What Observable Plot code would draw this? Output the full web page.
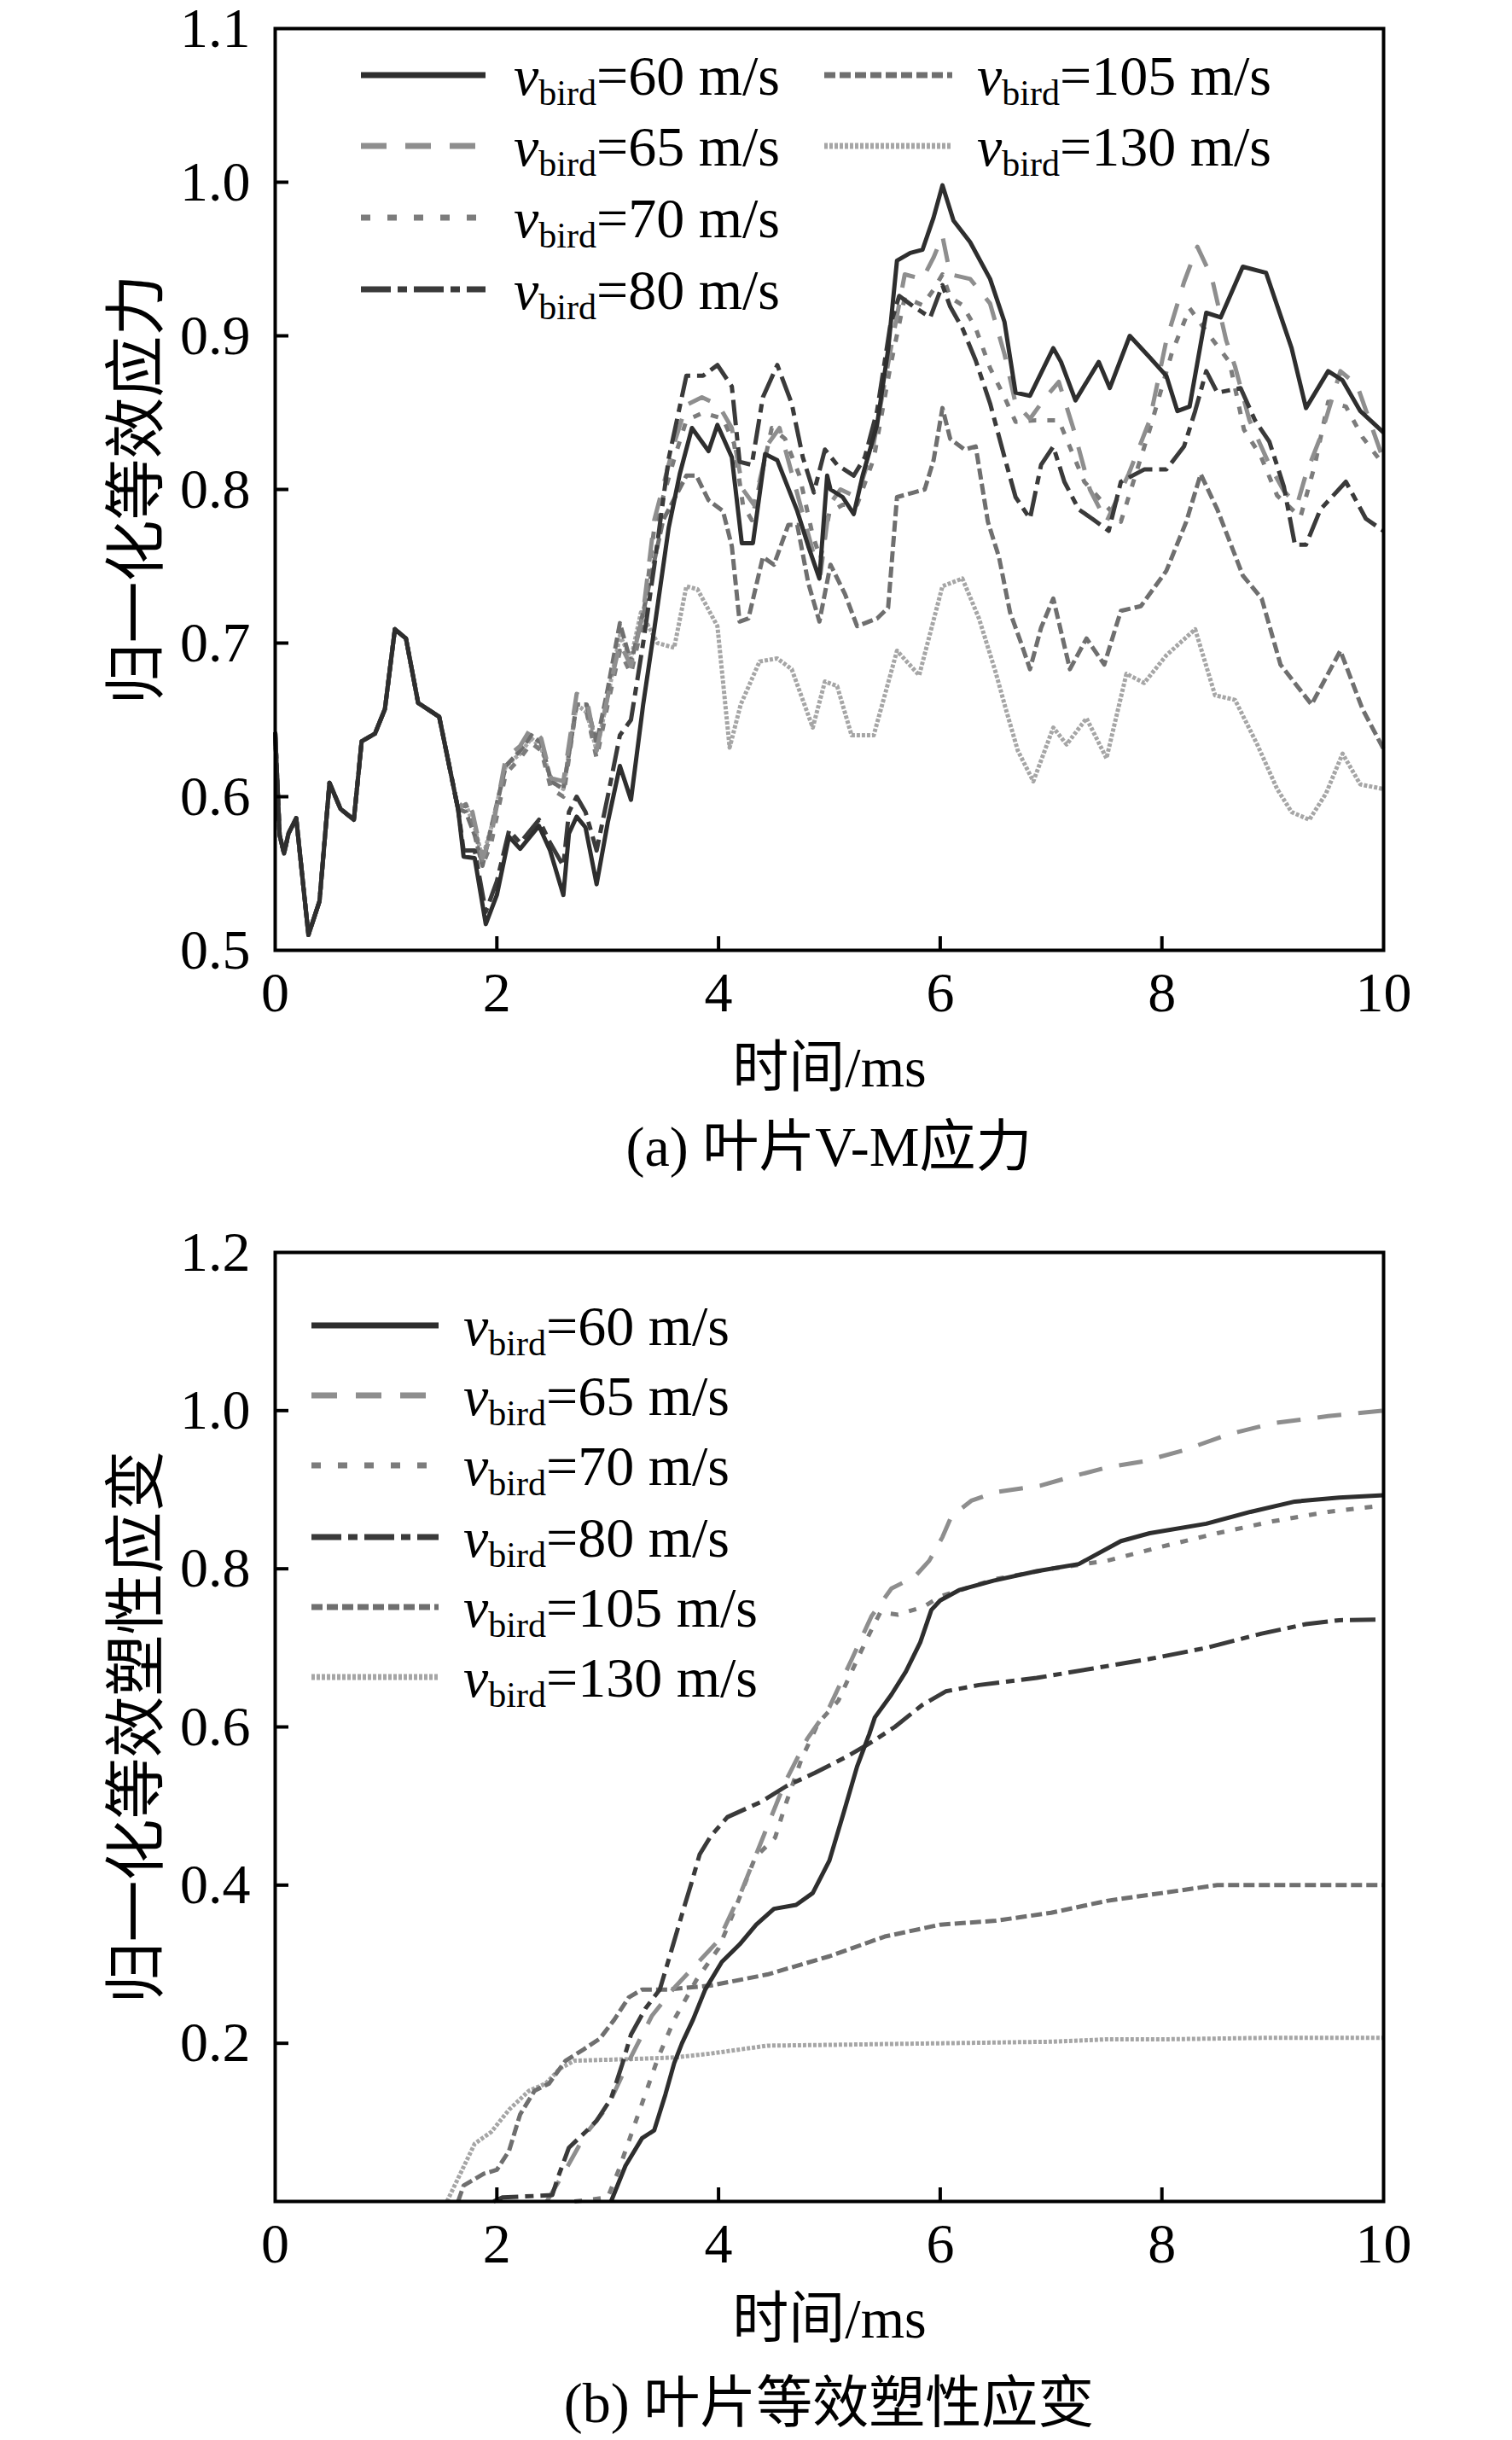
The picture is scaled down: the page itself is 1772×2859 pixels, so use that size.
<!DOCTYPE html>
<html>
<head>
<meta charset="utf-8">
<script src="https://cdn.jsdelivr.net/npm/d3@7"></script>
<script src="https://cdn.jsdelivr.net/npm/@observablehq/plot@0.6"></script>
<style>
  html, body { margin: 0; padding: 0; background: white; }
  svg { display: block; }
  .cap { width: 1299px; margin-left: 322px; text-align: center; font-family: 'Liberation Serif','Noto Sans CJK SC',serif; font-size: 66px; color: black; white-space: nowrap; }
</style>
</head>
<body>
<div id="chart"></div>
<script>
// ---------- data ----------
const speeds = ["60", "65", "70", "80", "105", "130"];
const xTicks = [0, 2, 4, 6, 8, 10];
const yTicksA = [0.5, 0.6, 0.7, 0.8, 0.9, 1.0, 1.1];
const yTicksB = [0.2, 0.4, 0.6, 0.8, 1.0, 1.2];

// (a) normalized V-M stress: shared start 0–1.65 ms
const aCommon = [[0,0.642],[0.04,0.575],[0.08,0.563],[0.12,0.576],[0.19,0.586],[0.30,0.51],[0.40,0.532],[0.49,0.609],[0.59,0.592],[0.71,0.585],[0.78,0.636],[0.90,0.641],[0.99,0.657],[1.08,0.709],[1.18,0.703],[1.29,0.661],[1.48,0.652],[1.65,0.592]];
const a60 = [[1.7,0.561],[1.8,0.56],[1.9,0.517],[2.0,0.536],[2.11,0.574],[2.21,0.566],[2.38,0.581],[2.48,0.565],[2.6,0.536],[2.65,0.576],[2.72,0.587],[2.8,0.58],[2.9,0.543],[3.0,0.583],[3.11,0.62],[3.21,0.598],[3.32,0.66],[3.42,0.709],[3.55,0.775],[3.65,0.81],[3.76,0.84],[3.91,0.825],[3.99,0.842],[4.12,0.821],[4.21,0.765],[4.31,0.765],[4.42,0.823],[4.53,0.819],[4.71,0.786],[4.81,0.763],[4.91,0.742],[4.98,0.809],[5.01,0.80],[5.12,0.795],[5.22,0.784],[5.30,0.809],[5.43,0.842],[5.53,0.891],[5.61,0.949],[5.73,0.954],[5.84,0.956],[5.94,0.977],[6.02,0.998],[6.12,0.975],[6.27,0.961],[6.45,0.937],[6.58,0.909],[6.68,0.863],[6.81,0.861],[7.02,0.892],[7.09,0.883],[7.22,0.858],[7.43,0.883],[7.53,0.866],[7.71,0.90],[7.89,0.886],[8.04,0.874],[8.14,0.851],[8.25,0.854],[8.4,0.915],[8.53,0.912],[8.73,0.945],[8.94,0.941],[9.17,0.892],[9.3,0.853],[9.5,0.877],[9.63,0.871],[9.79,0.851],[10,0.837]];
const a65 = [[1.72,0.598],[1.78,0.59],[1.87,0.56],[1.95,0.575],[2.08,0.625],[2.21,0.633],[2.31,0.645],[2.40,0.638],[2.49,0.612],[2.60,0.61],[2.72,0.667],[2.81,0.664],[2.90,0.63],[3.0,0.665],[3.11,0.70],[3.21,0.685],[3.32,0.72],[3.42,0.78],[3.6,0.83],[3.71,0.855],[3.85,0.86],[4.0,0.855],[4.12,0.84],[4.22,0.80],[4.32,0.79],[4.45,0.83],[4.55,0.84],[4.7,0.80],[4.85,0.76],[4.92,0.745],[5.0,0.79],[5.1,0.80],[5.25,0.795],[5.4,0.83],[5.55,0.89],[5.68,0.94],[5.84,0.937],[5.94,0.951],[6.02,0.965],[6.09,0.94],[6.27,0.937],[6.45,0.921],[6.58,0.888],[6.68,0.856],[6.81,0.846],[6.95,0.86],[7.07,0.87],[7.2,0.84],[7.35,0.80],[7.5,0.779],[7.7,0.81],[7.89,0.845],[8.04,0.897],[8.2,0.935],[8.32,0.958],[8.45,0.938],[8.58,0.897],[8.66,0.88],[8.79,0.845],[8.97,0.816],[9.1,0.799],[9.22,0.79],[9.3,0.81],[9.43,0.834],[9.61,0.877],[9.76,0.868],[10,0.819]];
const a70 = [[1.72,0.595],[1.8,0.58],[1.87,0.555],[1.95,0.57],[2.08,0.615],[2.21,0.625],[2.31,0.635],[2.40,0.63],[2.49,0.605],[2.60,0.60],[2.72,0.66],[2.81,0.655],[2.90,0.625],[3.0,0.66],[3.11,0.695],[3.21,0.68],[3.32,0.715],[3.42,0.775],[3.6,0.82],[3.71,0.845],[3.86,0.85],[4.04,0.846],[4.14,0.83],[4.22,0.79],[4.3,0.78],[4.48,0.84],[4.6,0.833],[4.73,0.809],[4.85,0.77],[4.92,0.755],[5.0,0.785],[5.12,0.79],[5.25,0.79],[5.4,0.82],[5.55,0.88],[5.68,0.925],[5.84,0.92],[5.94,0.93],[6.02,0.94],[6.09,0.925],[6.2,0.92],[6.32,0.905],[6.45,0.879],[6.58,0.86],[6.68,0.844],[6.86,0.845],[7.07,0.845],[7.3,0.805],[7.45,0.793],[7.63,0.779],[7.89,0.839],[8.09,0.889],[8.25,0.918],[8.4,0.903],[8.61,0.883],[8.74,0.839],[8.89,0.822],[9.04,0.796],[9.25,0.782],[9.38,0.816],[9.5,0.857],[9.66,0.854],[9.81,0.834],[10,0.816]];
const a80 = [[1.7,0.565],[1.8,0.565],[1.9,0.525],[2.0,0.545],[2.11,0.578],[2.21,0.57],[2.38,0.585],[2.48,0.57],[2.6,0.555],[2.65,0.59],[2.72,0.60],[2.8,0.59],[2.9,0.565],[3.0,0.6],[3.11,0.64],[3.21,0.65],[3.32,0.70],[3.42,0.75],[3.55,0.82],[3.71,0.874],[3.86,0.874],[3.99,0.881],[4.12,0.867],[4.19,0.818],[4.30,0.816],[4.40,0.86],[4.53,0.881],[4.66,0.856],[4.76,0.821],[4.86,0.798],[4.96,0.826],[5.07,0.816],[5.22,0.809],[5.32,0.821],[5.43,0.851],[5.55,0.907],[5.63,0.926],[5.76,0.919],[5.91,0.912],[6.02,0.933],[6.09,0.919],[6.2,0.905],[6.32,0.884],[6.45,0.856],[6.58,0.821],[6.68,0.795],[6.81,0.781],[6.91,0.816],[7.02,0.828],[7.12,0.805],[7.25,0.787],[7.37,0.781],[7.52,0.773],[7.63,0.805],[7.84,0.813],[8.04,0.813],[8.2,0.828],[8.3,0.851],[8.4,0.877],[8.5,0.863],[8.71,0.866],[8.84,0.845],[8.97,0.831],[9.1,0.802],[9.2,0.764],[9.3,0.764],[9.43,0.787],[9.66,0.805],[9.84,0.781],[10,0.773]];
const a105 = [[1.72,0.59],[1.8,0.575],[1.87,0.555],[1.95,0.58],[2.08,0.62],[2.21,0.63],[2.31,0.64],[2.40,0.635],[2.49,0.61],[2.60,0.605],[2.72,0.66],[2.81,0.66],[2.90,0.635],[3.0,0.67],[3.11,0.713],[3.21,0.687],[3.32,0.72],[3.5,0.78],[3.71,0.809],[3.80,0.809],[3.91,0.793],[4.04,0.786],[4.12,0.763],[4.19,0.714],[4.27,0.716],[4.40,0.756],[4.50,0.751],[4.63,0.777],[4.71,0.777],[4.81,0.739],[4.91,0.714],[5.01,0.751],[5.14,0.732],[5.25,0.711],[5.43,0.716],[5.53,0.723],[5.61,0.795],[5.76,0.798],[5.86,0.80],[5.94,0.819],[6.02,0.853],[6.09,0.833],[6.22,0.826],[6.32,0.828],[6.43,0.779],[6.53,0.756],[6.63,0.72],[6.73,0.70],[6.81,0.683],[6.91,0.71],[7.02,0.729],[7.17,0.683],[7.32,0.703],[7.48,0.686],[7.63,0.721],[7.81,0.724],[8.04,0.747],[8.22,0.779],[8.35,0.81],[8.5,0.787],[8.73,0.744],[8.9,0.729],[9.07,0.686],[9.35,0.66],[9.61,0.695],[9.81,0.657],[10,0.631]];
const a130 = [[1.72,0.595],[1.8,0.58],[1.87,0.56],[1.95,0.58],[2.08,0.62],[2.21,0.628],[2.31,0.638],[2.40,0.632],[2.49,0.61],[2.60,0.605],[2.72,0.66],[2.81,0.655],[2.90,0.63],[3.0,0.665],[3.11,0.705],[3.21,0.69],[3.3,0.72],[3.45,0.70],[3.6,0.697],[3.71,0.737],[3.81,0.735],[3.99,0.711],[4.1,0.632],[4.2,0.66],[4.37,0.688],[4.53,0.69],[4.66,0.683],[4.85,0.645],[4.96,0.675],[5.07,0.672],[5.2,0.64],[5.4,0.64],[5.61,0.695],[5.81,0.679],[6.02,0.737],[6.2,0.742],[6.35,0.716],[6.5,0.681],[6.6,0.655],[6.7,0.63],[6.84,0.61],[7.02,0.645],[7.14,0.634],[7.32,0.651],[7.5,0.625],[7.68,0.68],[7.84,0.674],[8.04,0.692],[8.3,0.709],[8.48,0.666],[8.66,0.663],[8.86,0.634],[9.04,0.605],[9.17,0.59],[9.33,0.585],[9.48,0.602],[9.63,0.628],[9.79,0.608],[10,0.605]];

// (b) normalized equivalent plastic strain
const b60 = [[3.03,0],[3.16,0.045],[3.31,0.08],[3.42,0.09],[3.52,0.135],[3.6,0.175],[3.67,0.2],[3.77,0.23],[3.88,0.268],[4.03,0.303],[4.19,0.325],[4.34,0.35],[4.5,0.37],[4.7,0.375],[4.85,0.39],[5.0,0.431],[5.13,0.492],[5.25,0.55],[5.36,0.591],[5.41,0.612],[5.56,0.641],[5.69,0.67],[5.82,0.707],[5.92,0.748],[6.0,0.76],[6.17,0.773],[6.48,0.785],[6.87,0.797],[7.25,0.806],[7.63,0.835],[7.89,0.845],[8.4,0.857],[8.8,0.872],[9.2,0.885],[9.6,0.89],[10,0.893]];
const b65 = [[2.45,0],[2.6,0.035],[2.8,0.085],[3.0,0.12],[3.2,0.18],[3.4,0.235],[3.6,0.27],[3.8,0.3],[4.0,0.33],[4.2,0.39],[4.4,0.46],[4.6,0.53],[4.8,0.585],[5.0,0.625],[5.2,0.685],[5.38,0.74],[5.56,0.775],[5.77,0.79],[5.9,0.81],[6.02,0.84],[6.1,0.866],[6.28,0.886],[6.5,0.897],[6.9,0.905],[7.2,0.917],[7.5,0.928],[7.84,0.936],[8.2,0.95],[8.6,0.97],[9.0,0.984],[9.5,0.993],[10,1.0]];
const b70 = [[2.7,0],[3.0,0.005],[3.1,0.04],[3.25,0.1],[3.45,0.18],[3.6,0.23],[3.8,0.28],[4.0,0.32],[4.15,0.37],[4.33,0.435],[4.51,0.46],[4.6,0.5],[4.75,0.56],[4.9,0.605],[5.08,0.633],[5.28,0.694],[5.38,0.723],[5.46,0.745],[5.62,0.742],[5.85,0.752],[6.0,0.765],[6.5,0.787],[7.0,0.80],[7.5,0.81],[8.0,0.828],[8.5,0.845],[9.0,0.86],[9.5,0.872],[10,0.88]];
const b80 = [[1.97,0],[2.05,0.005],[2.5,0.008],[2.55,0.03],[2.65,0.068],[2.8,0.088],[2.9,0.102],[3.03,0.13],[3.13,0.173],[3.21,0.211],[3.34,0.244],[3.47,0.268],[3.57,0.315],[3.67,0.363],[3.75,0.40],[3.83,0.439],[3.93,0.462],[4.08,0.486],[4.38,0.505],[4.61,0.525],[4.87,0.542],[5.15,0.562],[5.36,0.579],[5.59,0.60],[5.84,0.628],[6.05,0.645],[6.35,0.653],[6.87,0.662],[7.38,0.674],[7.89,0.686],[8.4,0.70],[8.9,0.718],[9.3,0.73],[9.6,0.735],[10,0.736]];
const b105 = [[1.65,0],[1.7,0.02],[1.88,0.035],[2.0,0.04],[2.11,0.064],[2.21,0.11],[2.34,0.14],[2.47,0.149],[2.62,0.178],[2.78,0.192],[2.93,0.206],[3.06,0.23],[3.19,0.258],[3.31,0.268],[3.54,0.268],[3.93,0.273],[4.44,0.287],[5.0,0.31],[5.5,0.335],[6.0,0.35],[6.5,0.355],[7.0,0.365],[7.5,0.38],[8.0,0.39],[8.5,0.40],[9.0,0.40],[10,0.40]];
const b130 = [[1.55,0],[1.67,0.035],[1.8,0.073],[1.95,0.088],[2.11,0.116],[2.29,0.14],[2.44,0.149],[2.57,0.168],[2.7,0.178],[3.2,0.18],[3.6,0.182],[3.93,0.187],[4.44,0.197],[5.0,0.198],[6.0,0.2],[7.0,0.202],[7.5,0.205],[8.0,0.205],[9.0,0.207],[10,0.207]];

// ---------- styles ----------
const FONT = "'Liberation Serif','Noto Sans CJK SC',serif";
const styleOf = {
  "60":  {stroke: "#2e2e2e", dash: null,          ldash: null},
  "65":  {stroke: "#8e8e8e", dash: "28,20",       ldash: "30,22"},
  "70":  {stroke: "#7c7c7c", dash: "9,13",        ldash: "11,20"},
  "80":  {stroke: "#3a3a3a", dash: "30,8,10,8",   ldash: "35,8,11,8"},
  "105": {stroke: "#6f6f6f", dash: "13,5",        ldash: "13,5"},
  "130": {stroke: "#a6a6a6", dash: "4,2",         ldash: "4,2"}
};

const toObj = arr => arr.map(([t, v]) => ({t, v}));
const aSeries = {
  "60": toObj(aCommon.concat(a60)), "65": toObj(aCommon.concat(a65)), "70": toObj(aCommon.concat(a70)),
  "80": toObj(aCommon.concat(a80)), "105": toObj(aCommon.concat(a105)), "130": toObj(aCommon.concat(a130))
};
const bSeries = {
  "60": toObj(b60), "65": toObj(b65), "70": toObj(b70),
  "80": toObj(b80), "105": toObj(b105), "130": toObj(b130)
};

const drawOrder = ["130", "105", "70", "65", "80", "60"];
function lineMarks(S) {
  return drawOrder.map(k => Plot.line(S[k], {
    x: "t", y: "v", stroke: styleOf[k].stroke, strokeWidth: 5,
    strokeDasharray: styleOf[k].dash, strokeLinejoin: "round", strokeLinecap: "butt"
  }));
}

function panel({S, yDomain, yTicks, yFmt, ytitle, height, marginTop, marginBottom}) {
  const W = 1772, mL = 322, mR = 151;
  const innerW = W - mL - mR;
  const innerH = height - marginTop - marginBottom;
  const txt = {fontFamily: FONT, fill: "black", lineAnchor: "middle"};
  return Plot.plot({
    width: W, height, marginLeft: mL, marginRight: mR, marginTop, marginBottom,
    x: {domain: [0, 10], axis: null},
    y: {domain: yDomain, axis: null},
    style: {background: "white", overflow: "visible"},
    marks: [
      ...lineMarks(S),
      Plot.frame({stroke: "black", strokeWidth: 4}),
      Plot.ruleX(xTicks.slice(1, -1), {x: d => d, insetTop: innerH - 16, stroke: "black", strokeWidth: 4}),
      Plot.ruleY(yTicks.slice(0, -1).filter(d => d > yDomain[0]), {y: d => d, insetRight: innerW - 16, stroke: "black", strokeWidth: 4}),
      Plot.text(xTicks, {x: d => d, text: d => String(d), frameAnchor: "bottom", dy: 50, fontSize: 66, textAnchor: "middle", ...txt}),
      Plot.text(yTicks, {y: d => d, text: yFmt, frameAnchor: "left", dx: -29, textAnchor: "end", fontSize: 66, ...txt}),
      Plot.text(["时间/ms"], {text: d => d, frameAnchor: "bottom", dy: 138, fontSize: 66, textAnchor: "middle", ...txt}),
      Plot.text([ytitle], {text: d => d, frameAnchor: "left", dx: -162, rotate: -90, fontSize: 72, textAnchor: "middle", ...txt})
    ]
  });
}

function addLegend(svg, items) {
  const g = d3.select(svg).append("g").attr("text-anchor", "start");
  for (const it of items) {
    const st = styleOf[it.k];
    g.append("line").attr("x1", it.x1).attr("x2", it.x2).attr("y1", it.y).attr("y2", it.y)
      .attr("stroke", st.stroke).attr("stroke-width", 7)
      .attr("stroke-dasharray", st.ldash);
    const t = g.append("text").attr("x", it.tx).attr("y", it.y + 23)
      .attr("text-anchor", "start")
      .attr("font-family", FONT).attr("font-size", 66).attr("fill", "black");
    t.append("tspan").attr("font-style", "italic").text("v");
    t.append("tspan").attr("font-size", 42).attr("dy", 12).text("bird");
    t.append("tspan").attr("dy", -12).text(`=${it.k} m/s`);
  }
}

const root = document.getElementById("chart");

// Panel (a)
const svgA = panel({S: aSeries, yDomain: [0.5, 1.1], yTicks: yTicksA, yFmt: d => d.toFixed(1),
  ytitle: "归一化等效应力", height: 1290, marginTop: 33, marginBottom: 177});
addLegend(svgA, [
  {k: "60",  x1: 423, x2: 569, tx: 602, y: 88},
  {k: "65",  x1: 423, x2: 569, tx: 602, y: 171},
  {k: "70",  x1: 423, x2: 569, tx: 602, y: 255},
  {k: "80",  x1: 423, x2: 569, tx: 602, y: 339},
  {k: "105", x1: 966, x2: 1116, tx: 1145, y: 88},
  {k: "130", x1: 966, x2: 1116, tx: 1145, y: 171}
]);
root.appendChild(svgA);
const capA = document.createElement("div");
capA.className = "cap"; capA.style.height = "108px"; capA.style.lineHeight = "108px";
capA.textContent = "(a) 叶片V-M应力";
root.appendChild(capA);

// Panel (b)
const topB = 1398;
const svgB = panel({S: bSeries, yDomain: [0, 1.2], yTicks: yTicksB, yFmt: d => d.toFixed(1),
  ytitle: "归一化等效塑性应变", height: 1370, marginTop: 1467 - topB, marginBottom: 1370 - (2579 - topB)});
const rowsB = [1553, 1635, 1717, 1801, 1883, 1965];
addLegend(svgB, speeds.map((k, i) => ({k, x1: 365, x2: 514, tx: 543, y: rowsB[i] - topB})));
root.appendChild(svgB);
const capB = document.createElement("div");
capB.className = "cap"; capB.style.height = "96px"; capB.style.lineHeight = "96px";
capB.textContent = "(b) 叶片等效塑性应变";
root.appendChild(capB);
</script>
</body>
</html>
